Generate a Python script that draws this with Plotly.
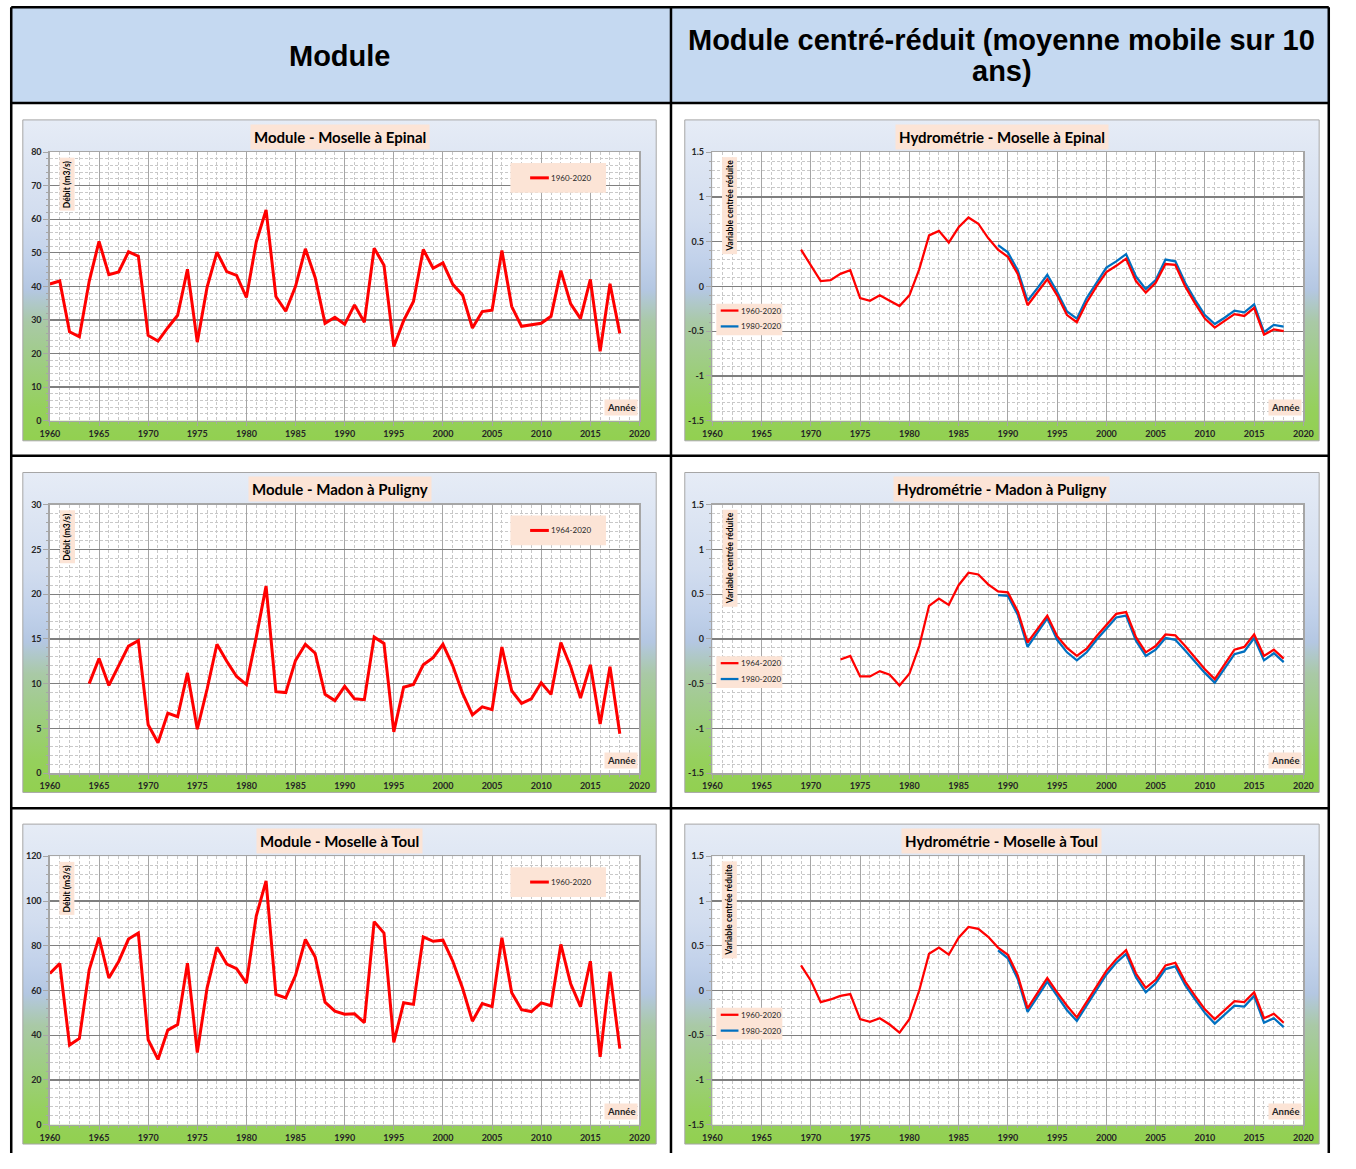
import base64
import plotly.graph_objects as go

# The page body keeps its default 8px margin, so the figure is sized to fill
# the remaining window and every position below is given in window pixels.
PAGE_W, PAGE_H = 1356, 1169
OFF = 8
W, H = PAGE_W - 2 * OFF, PAGE_H - 2 * OFF

# ---------------------------------------------------------------- data
years_1960 = list(range(1960, 2019))
years_1964 = list(range(1964, 2019))
years_1969 = list(range(1969, 2019))
years_1973 = list(range(1973, 2019))
years_1989 = list(range(1989, 2019))

# Annual mean discharge (m3/s)
epinal_module = [40.7, 41.6, 26.5, 25.0, 41.5, 53.4, 43.5, 44.3, 50.3, 49.0,
                 25.4, 23.7, 27.7, 31.4, 45.1, 23.4, 39.8, 50.2, 44.4, 43.3,
                 36.7, 53.2, 62.8, 37.0, 32.6, 40.0, 51.2, 42.6, 29.0, 30.8,
                 28.7, 34.5, 29.3, 51.4, 46.3, 22.1, 29.8, 35.5, 51.0, 45.4,
                 47.0, 40.6, 37.4, 27.6, 32.5, 32.9, 50.7, 34.0, 28.1, 28.5,
                 29.0, 31.1, 44.7, 34.8, 30.4, 42.1, 20.7, 40.8, 26.0]

madon_module = [10.0, 12.8, 9.8, 12.0, 14.2, 14.8,
                5.4, 3.4, 6.7, 6.3, 11.2, 4.9, 9.4, 14.4, 12.5, 10.8,
                9.9, 15.2, 20.9, 9.1, 9.0, 12.6, 14.4, 13.4, 8.8, 8.1,
                9.7, 8.3, 8.2, 15.2, 14.5, 4.6, 9.6, 9.9, 12.1, 12.9,
                14.4, 12.0, 8.9, 6.5, 7.4, 7.1, 14.1, 9.2, 7.8, 8.3,
                10.1, 8.8, 14.6, 11.9, 8.4, 12.1, 5.5, 11.9, 4.4]

toul_module = [67.6, 72.1, 35.6, 38.6, 69.3, 83.7, 65.6, 73.0, 83.0, 85.7,
               38.0, 29.2, 42.3, 44.8, 72.2, 32.3, 61.2, 79.3, 71.8, 69.8,
               63.3, 93.3, 109.0, 58.3, 56.7, 66.8, 82.8, 75.0, 54.8, 50.8,
               49.4, 49.6, 45.6, 90.8, 85.7, 36.8, 54.5, 53.8, 84.0, 82.0,
               82.5, 73.1, 61.0, 46.3, 54.2, 52.8, 83.6, 59.0, 51.4, 50.6,
               54.5, 53.2, 80.6, 63.0, 52.8, 73.1, 30.3, 68.4, 34.0]

# Centred-reduced module, 10-year moving average
epinal_cr_long = [0.41,
                  0.24, 0.06, 0.07, 0.14, 0.18, -0.13, -0.16, -0.10, -0.16, -0.22,
                  -0.10, 0.19, 0.57, 0.62, 0.49, 0.66, 0.77, 0.70, 0.54, 0.41,
                  0.33, 0.14, -0.21, -0.06, 0.08, -0.10, -0.32, -0.40, -0.18, 0.00,
                  0.16, 0.23, 0.31, 0.06, -0.07, 0.04, 0.25, 0.24, 0.00, -0.19,
                  -0.36, -0.46, -0.38, -0.31, -0.33, -0.24, -0.54, -0.48, -0.50]
epinal_cr_1980 = [0.46,
                  0.38, 0.18, -0.16, -0.02, 0.13, -0.06, -0.28, -0.36, -0.13, 0.04,
                  0.21, 0.28, 0.36, 0.11, -0.03, 0.07, 0.30, 0.28, 0.04, -0.15,
                  -0.32, -0.42, -0.35, -0.27, -0.29, -0.20, -0.51, -0.43, -0.45]

madon_cr_long = [-0.23, -0.19, -0.42, -0.42, -0.36, -0.40, -0.52,
                 -0.39, -0.08, 0.37, 0.45, 0.38, 0.60, 0.74, 0.72, 0.61, 0.53,
                 0.52, 0.31, -0.04, 0.11, 0.26, 0.03, -0.10, -0.19, -0.11, 0.03,
                 0.16, 0.28, 0.30, 0.02, -0.15, -0.08, 0.05, 0.04, -0.08, -0.21,
                 -0.34, -0.45, -0.29, -0.12, -0.09, 0.05, -0.19, -0.12, -0.22]
madon_cr_1980 = [0.49,
                 0.48, 0.27, -0.09, 0.07, 0.23, -0.01, -0.15, -0.24, -0.15, -0.01,
                 0.12, 0.24, 0.26, -0.02, -0.19, -0.12, 0.01, -0.01, -0.13, -0.26,
                 -0.38, -0.49, -0.33, -0.17, -0.14, 0.01, -0.24, -0.16, -0.26]

toul_cr_long = [0.28,
                0.11, -0.13, -0.10, -0.06, -0.04, -0.32, -0.35, -0.31, -0.38, -0.47,
                -0.32, 0.00, 0.41, 0.48, 0.40, 0.59, 0.71, 0.69, 0.60, 0.48,
                0.40, 0.17, -0.20, -0.03, 0.14, -0.02, -0.17, -0.30, -0.13, 0.04,
                0.22, 0.35, 0.45, 0.19, 0.03, 0.12, 0.28, 0.31, 0.10, -0.06,
                -0.21, -0.32, -0.22, -0.12, -0.13, -0.02, -0.31, -0.26, -0.36]
toul_cr_1980 = [0.45,
                0.36, 0.13, -0.24, -0.07, 0.10, -0.06, -0.22, -0.34, -0.17, 0.00,
                0.18, 0.31, 0.41, 0.15, -0.02, 0.08, 0.24, 0.27, 0.06, -0.10,
                -0.25, -0.37, -0.27, -0.17, -0.18, -0.06, -0.36, -0.31, -0.41]

cr_tickvals = [-1.5, -1, -0.5, 0, 0.5, 1, 1.5]
cr_ticktext = ["-1.5", "-1", "-0.5", "0", "0.5", "1", "1.5"]

header_left = "Module"
header_right = ["Module centré-réduit (moyenne mobile sur 10", "ans)"]

# ---------------------------------------------------------------- style
RED = "#ff0000"
BLUE = "#0070c0"
PEACH = "#fce4d6"
HEADER_BG = "#c5d9f1"
FRAME = "#a6a6a6"
MINOR_GRID = "#c8c8c8"
FONT = "Lato"
HEAD_FONT = "Liberation Sans, Arial, sans-serif"
TICKFONT = dict(family=FONT, size=9, color="#262626", weight="bold")


def fx(x):
    return (x - OFF) / W


def fy(y):
    return 1 - (y - OFF) / H


# window-pixel geometry of the table and of the chart frames
BOX_X = [(21, 664), (693, 1337)]
PLOT_X = [(48.5, 647), (721, 1321)]
BOX_Y = [(123, 447), (479, 802), (834, 1157)]
PLOT_Y = [(155.5, 426.7), (511.5, 782.5), (866.5, 1137.5)]
TABLE_L, TABLE_R, TABLE_T, TABLE_B = OFF + 1.25, PAGE_W - OFF - 1.25, OFF + 1.25, PAGE_H
COL_SPLIT = 679
ROW_SPLITS = [106, 462, 818]

charts = [
    dict(col=0, row=0, title="Module - Moselle à Epinal",
         series=[("1960-2020", years_1960, epinal_module, RED)],
         yrange=(0, 80), ydtick=10, yminor=2),
    dict(col=1, row=0, title="Hydrométrie - Moselle à Epinal",
         series=[("1960-2020", years_1969, epinal_cr_long, RED),
                 ("1980-2020", years_1989, epinal_cr_1980, BLUE)]),
    dict(col=0, row=1, title="Module - Madon à Puligny",
         series=[("1964-2020", years_1964, madon_module, RED)],
         yrange=(0, 30), ydtick=5, yminor=1),
    dict(col=1, row=1, title="Hydrométrie - Madon à Puligny",
         series=[("1964-2020", years_1973, madon_cr_long, RED),
                 ("1980-2020", years_1989, madon_cr_1980, BLUE)]),
    dict(col=0, row=2, title="Module - Moselle à Toul",
         series=[("1960-2020", years_1960, toul_module, RED)],
         yrange=(0, 120), ydtick=20, yminor=4),
    dict(col=1, row=2, title="Hydrométrie - Moselle à Toul",
         series=[("1960-2020", years_1969, toul_cr_long, RED),
                 ("1980-2020", years_1989, toul_cr_1980, BLUE)]),
]

# vertical gradient used as the chart-area fill
GRAD_STOPS = [(0.0, "#e6ecf6"), (0.30, "#d2ddef"), (0.44, "#c1d1ea"),
              (0.53, "#b4c7e2"), (0.63, "#a9c9a6"), (0.76, "#9ecd82"),
              (0.90, "#95d05c"), (1.0, "#92d050")]
stops = "".join(f"<stop offset='{o}' stop-color='{c}'/>" for o, c in GRAD_STOPS)
svg = ("<svg xmlns='http://www.w3.org/2000/svg' width='200' height='200' "
       "viewBox='0 0 200 200' preserveAspectRatio='none'>"
       "<defs><linearGradient id='g' x1='0' y1='0' x2='0' y2='1'>" + stops +
       "</linearGradient></defs><rect width='200' height='200' fill='url(#g)'/></svg>")
GRAD_SRC = "data:image/svg+xml;base64," + base64.b64encode(svg.encode()).decode()

fig = go.Figure()
layout = dict(width=W, height=H, margin=dict(l=0, r=0, t=0, b=0), autosize=False,
              paper_bgcolor="white", plot_bgcolor="white", showlegend=False,
              hovermode=False)
shapes, annotations, images = [], [], []

# header band
shapes.append(dict(type="rect", xref="paper", yref="paper", layer="below",
                   x0=fx(TABLE_L), x1=fx(TABLE_R), y0=fy(ROW_SPLITS[0]),
                   y1=fy(TABLE_T), fillcolor=HEADER_BG, line=dict(width=0)))
annotations.append(dict(xref="paper", yref="paper", x=fx(342.5), y=fy(58),
                        text=header_left, showarrow=False, xanchor="center",
                        yanchor="middle",
                        font=dict(family=HEAD_FONT, size=29, color="black",
                                  weight="bold")))
for k, line_text in enumerate(header_right):
    annotations.append(dict(xref="paper", yref="paper", x=fx(1015),
                            y=fy(42 + 32 * k), text=line_text, showarrow=False,
                            xanchor="center", yanchor="middle",
                            font=dict(family=HEAD_FONT, size=29, color="black",
                                      weight="bold")))

for i, ch in enumerate(charts, start=1):
    xid = "x" if i == 1 else f"x{i}"
    yid = "y" if i == 1 else f"y{i}"
    xkey = "xaxis" if i == 1 else f"xaxis{i}"
    ykey = "yaxis" if i == 1 else f"yaxis{i}"
    bx0, bx1 = BOX_X[ch["col"]]
    by0, by1 = BOX_Y[ch["row"]]
    px0, px1 = PLOT_X[ch["col"]]
    py0, py1 = PLOT_Y[ch["row"]]
    is_module = ch["col"] == 0

    # chart area: gradient, frame, white plot area
    images.append(dict(source=GRAD_SRC, xref="paper", yref="paper",
                       x=fx(bx0), y=fy(by0), sizex=(bx1 - bx0) / W,
                       sizey=(by1 - by0) / H, xanchor="left", yanchor="top",
                       sizing="stretch", layer="below"))
    shapes.append(dict(type="rect", xref="paper", yref="paper", layer="below",
                       x0=fx(bx0), x1=fx(bx1), y0=fy(by1), y1=fy(by0),
                       line=dict(color=FRAME, width=1)))
    shapes.append(dict(type="rect", xref=f"{xid} domain", yref=f"{yid} domain",
                       layer="below", x0=0, x1=1, y0=0, y1=1,
                       fillcolor="white", line=dict(width=0)))

    minor_common = dict(showgrid=True, gridcolor=MINOR_GRID, griddash="3px,2px",
                        gridwidth=1, ticks="outside", ticklen=2, tickcolor=FRAME)
    layout[xkey] = dict(
        domain=[fx(px0), fx(px1)], anchor=yid, range=[1960, 2020],
        tickmode="linear", tick0=1960, dtick=5, ticks="outside", ticklen=4,
        tickcolor=FRAME, tickfont=TICKFONT, showgrid=True, gridcolor="#a6a6a6",
        gridwidth=1, zeroline=False, showline=True, linecolor=FRAME,
        linewidth=1.5, mirror=True, fixedrange=True,
        minor=dict(tickmode="linear", tick0=1960, dtick=1, **minor_common))
    ydict = dict(
        domain=[fy(py1), fy(py0)], anchor=xid, ticks="outside", ticklen=5,
        tickcolor=FRAME, tickfont=TICKFONT, showgrid=True, gridcolor="#7f7f7f",
        gridwidth=1.3, zeroline=False, showline=True, linecolor=FRAME,
        linewidth=1.5, mirror=True, fixedrange=True)
    if is_module:
        ydict.update(range=list(ch["yrange"]), tickmode="linear", tick0=0,
                     dtick=ch["ydtick"],
                     minor=dict(tickmode="linear", tick0=0, dtick=ch["yminor"],
                                **minor_common))
    else:
        ydict.update(range=[-1.5, 1.5], tickmode="array", tickvals=cr_tickvals,
                     ticktext=cr_ticktext,
                     minor=dict(tickmode="linear", tick0=0, dtick=0.1,
                                **minor_common))
    layout[ykey] = ydict

    # series (the 1980-2020 curve goes underneath)
    lw = 3 if is_module else 2.25
    for name, xs, ys, color in reversed(ch["series"]):
        fig.add_trace(go.Scatter(x=xs, y=ys, mode="lines", name=name,
                                 line=dict(color=color, width=lw),
                                 xaxis=xid, yaxis=yid, hoverinfo="skip"))

    # chart title
    annotations.append(dict(xref="paper", yref="paper", x=fx((bx0 + bx1) / 2),
                            y=fy(by0 + 17), text=ch["title"], showarrow=False,
                            xanchor="center", yanchor="middle", bgcolor=PEACH,
                            borderpad=3,
                            font=dict(family=FONT, size=15, color="black",
                                      weight="bold")))
    # axis titles
    annotations.append(dict(xref="paper", yref="paper", x=fx(px0 + 17.5),
                            y=fy(py0 + 5),
                            text="Débit (m3/s)" if is_module else "Variable centrée réduite",
                            textangle=-90, showarrow=False, xanchor="center",
                            yanchor="top", bgcolor=PEACH, borderpad=2,
                            font=dict(family=FONT, size=8.5, color="black",
                                      weight="bold")))
    annotations.append(dict(xref="paper", yref="paper", x=fx(px1 - 18.5),
                            y=fy(py1 - 13), text="Année", showarrow=False,
                            xanchor="center", yanchor="middle", bgcolor=PEACH,
                            borderpad=2,
                            font=dict(family=FONT, size=9.5, color="#262626",
                                      weight="bold")))

    # legend box
    if is_module:
        lx0, lx1 = px1 - 131, px1 - 34
        ly0, ly1 = py0 + 11, py0 + 41
        entries = [(ch["series"][0][0], ch["series"][0][3], (ly0 + ly1) / 2)]
        sx0, sx1 = px1 - 111, px1 - 92
    else:
        lx0, lx1 = px0 + 4, px0 + 71
        ly0, ly1 = py0 + 153, py0 + 185
        entries = [(s[0], s[3], py0 + 160 + 16 * k)
                   for k, s in enumerate(ch["series"])]
        sx0, sx1 = px0 + 8.5, px0 + 26.5
    shapes.append(dict(type="rect", xref="paper", yref="paper", layer="above",
                       x0=fx(lx0), x1=fx(lx1), y0=fy(ly1), y1=fy(ly0),
                       fillcolor=PEACH, line=dict(width=0)))
    for name, color, ly in entries:
        shapes.append(dict(type="line", xref="paper", yref="paper", layer="above",
                           x0=fx(sx0), x1=fx(sx1), y0=fy(ly), y1=fy(ly),
                           line=dict(color=color, width=lw)))
        annotations.append(dict(xref="paper", yref="paper", x=fx(sx1 + 0.5),
                                y=fy(ly), text=name, showarrow=False,
                                xanchor="left", yanchor="middle",
                                font=dict(family=FONT, size=8, color="#262626")))

# table rules
RULE = dict(color="black", width=2.5)
rules = [(TABLE_L, TABLE_T, TABLE_R, TABLE_T),
         (TABLE_L, TABLE_T, TABLE_L, TABLE_B),
         (TABLE_R, TABLE_T, TABLE_R, TABLE_B),
         (COL_SPLIT, TABLE_T, COL_SPLIT, TABLE_B)]
rules += [(TABLE_L, y, TABLE_R, y) for y in ROW_SPLITS]
for x0, y0, x1, y1 in rules:
    shapes.append(dict(type="line", xref="paper", yref="paper", layer="above",
                       x0=fx(x0), x1=fx(x1), y0=fy(y0), y1=fy(y1), line=RULE))

layout.update(shapes=shapes, annotations=annotations, images=images)
fig.update_layout(**layout)
fig.write_html("out.html", config=dict(displayModeBar=False, staticPlot=True))
